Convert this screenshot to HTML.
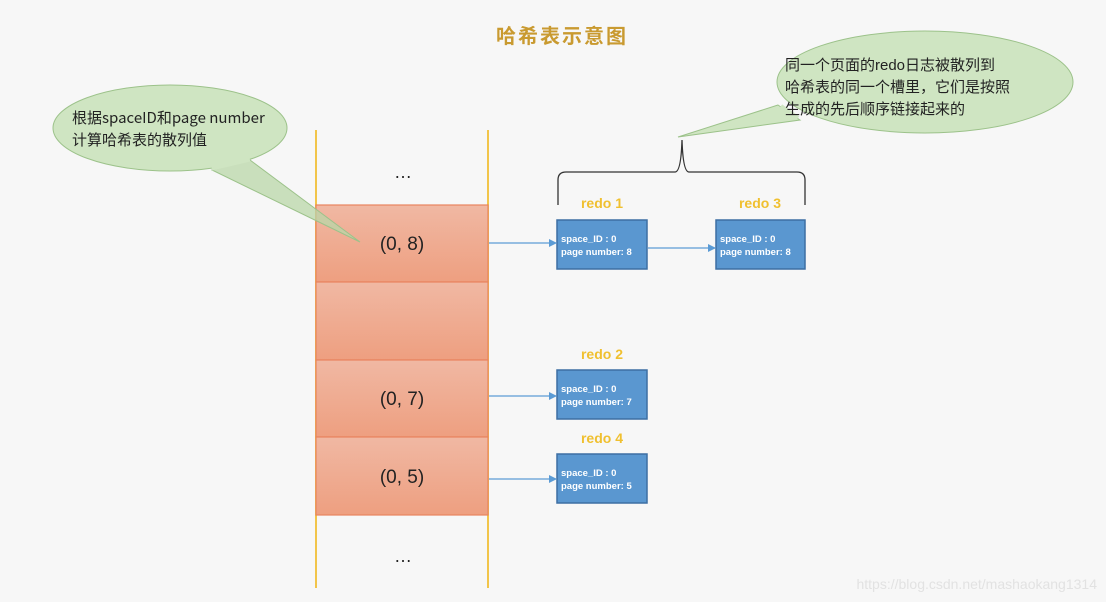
<!DOCTYPE html>
<html><head><meta charset="utf-8"><style>
html,body{margin:0;padding:0;background:#f7f7f7;}
svg{display:block;}
text{font-family:"Liberation Sans","Noto Sans CJK SC",sans-serif;}
.cj{font-family:"WenQuanYi Zen Hei","Noto Sans CJK SC",sans-serif;}
</style></head><body>
<svg width="1106" height="602" viewBox="0 0 1106 602" xmlns="http://www.w3.org/2000/svg">
<defs>
<linearGradient id="g" x1="0" y1="0" x2="0" y2="1">
<stop offset="0" stop-color="#f0b8a3"/><stop offset="1" stop-color="#ee9f80"/></linearGradient>
<marker id="ar" markerWidth="8" markerHeight="8" refX="7" refY="4" orient="auto" markerUnits="userSpaceOnUse"><path d="M0,0 L8,4 L0,8 z" fill="#5b9bd5"/></marker>
</defs>
<rect width="1106" height="602" fill="#f7f7f7"/>
<text x="562" y="43" text-anchor="middle" class="cj" font-size="20" font-weight="bold" fill="#c99a30" letter-spacing="2">哈希表示意图</text>
<!-- table -->
<line x1="316" y1="130" x2="316" y2="588" stroke="#f2c54a" stroke-width="2"/>
<line x1="488" y1="130" x2="488" y2="588" stroke="#f2c54a" stroke-width="2"/>
<g stroke="#e8845f" stroke-width="1.2" fill="url(#g)">
<rect x="316" y="205" width="172" height="77"/>
<rect x="316" y="282" width="172" height="78"/>
<rect x="316" y="360" width="172" height="77"/>
<rect x="316" y="437" width="172" height="78"/>
</g>
<text x="403" y="178" text-anchor="middle" font-size="18" fill="#222">…</text>
<text x="403" y="562" text-anchor="middle" font-size="18" fill="#222">…</text>
<g font-size="19" fill="#222" text-anchor="middle">
<text x="402" y="250">(0, 8)</text>
<text x="402" y="405">(0, 7)</text>
<text x="402" y="483">(0, 5)</text>
</g>
<!-- left bubble -->
<path d="M250,160 L360,242 L212,170 z" fill="#b9d7a8" fill-opacity="0.75" stroke="#9cc28a"/>
<ellipse cx="170" cy="128" rx="117" ry="43" fill="#cfe5c2" stroke="#9cc28a"/>
<path d="M212,169 L250,160" stroke="#cfe5c2" stroke-width="3"/>
<text x="72" y="123" class="cj" font-size="15" fill="#222">根据spaceID和page number</text>
<text x="72" y="145" class="cj" font-size="15" fill="#222">计算哈希表的散列值</text>
<!-- right bubble -->
<path d="M778,105 L678,137 L800,120 z" fill="#cfe5c2" stroke="#9cc28a"/>
<ellipse cx="925" cy="82" rx="148" ry="51" fill="#cfe5c2" stroke="#9cc28a"/>
<path d="M781,106 L798,118" stroke="#cfe5c2" stroke-width="4"/>
<g class="cj" font-size="15" fill="#222">
<text x="785" y="70">同一个页面的redo日志被散列到</text>
<text x="785" y="92">哈希表的同一个槽里，它们是按照</text>
<text x="785" y="114">生成的先后顺序链接起来的</text>
</g>
<!-- brace -->
<path d="M558,205 L558,180 Q558,172 566,172 L675,172 Q681,172 682,140 Q683,172 689,172 L797,172 Q805,172 805,180 L805,205" fill="none" stroke="#333" stroke-width="1.3"/>
<!-- redo labels -->
<g font-size="14" font-weight="bold" fill="#f0c030" text-anchor="middle">
<text x="602" y="208">redo 1</text>
<text x="760" y="208">redo 3</text>
<text x="602" y="359">redo 2</text>
<text x="602" y="443">redo 4</text>
</g>
<!-- boxes -->
<g fill="#5a97d0" stroke="#3d6fa3" stroke-width="1.5">
<rect x="557" y="220" width="90" height="49"/>
<rect x="716" y="220" width="89" height="49"/>
<rect x="557" y="370" width="90" height="49"/>
<rect x="557" y="454" width="90" height="49"/>
</g>
<g font-size="9.5" font-weight="bold" fill="#fff">
<text x="561" y="242">space_ID : 0</text><text x="561" y="255">page number: 8</text>
<text x="720" y="242">space_ID : 0</text><text x="720" y="255">page number: 8</text>
<text x="561" y="392">space_ID : 0</text><text x="561" y="405">page number: 7</text>
<text x="561" y="476">space_ID : 0</text><text x="561" y="489">page number: 5</text>
</g>
<!-- arrows -->
<g stroke="#5b9bd5" stroke-width="1.3" marker-end="url(#ar)">
<line x1="489" y1="243" x2="556" y2="243"/>
<line x1="648" y1="248" x2="715" y2="248"/>
<line x1="489" y1="396" x2="556" y2="396"/>
<line x1="489" y1="479" x2="556" y2="479"/>
</g>
<text x="1097" y="589" text-anchor="end" font-size="14" fill="#e2e2e2">https://blog.csdn.net/mashaokang1314</text>
</svg>
</body></html>
